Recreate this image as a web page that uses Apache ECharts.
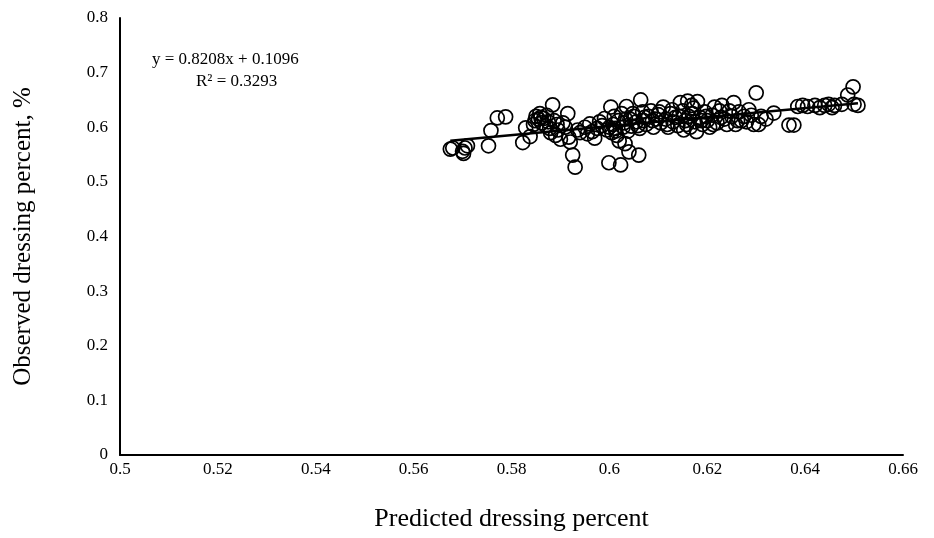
<!DOCTYPE html>
<html>
<head>
<meta charset="utf-8">
<script src="https://cdn.jsdelivr.net/npm/echarts@6/dist/echarts.min.js"></script>
<style>html,body{margin:0;padding:0;background:#fff}#c{width:934px;height:538px}</style>
</head>
<body>
<div id="c"></div>
<script>
const xTitle = 'Predicted dressing percent';
const yTitle = 'Observed dressing percent, %';
const equationText = 'y = 0.8208x + 0.1096';
const r2Text = 'R² = 0.3293';
const slope = 0.8208;
const intercept = 0.1096;
const predicted = [0.5675,0.5680,0.5700,0.5705,0.5710,0.5702,0.5753,0.5758,0.5771,0.5788,0.5823,0.5829,0.5838,0.5845,0.5848,0.5850,0.5855,0.5858,0.5862,0.5866,0.5870,0.5875,0.5878,0.5884,0.5880,0.5890,0.5895,0.5900,0.5905,0.5910,0.5915,0.5917,0.5920,0.5925,0.5930,0.5935,0.5940,0.5950,0.5955,0.5960,0.5965,0.5970,0.5975,0.5980,0.5985,0.5990,0.5995,0.5999,0.6003,0.6005,0.6008,0.6010,0.6012,0.6015,0.6018,0.6020,0.6023,0.6025,0.6028,0.6030,0.6032,0.6035,0.6038,0.6040,0.6042,0.6045,0.6050,0.6055,0.6060,0.6062,0.6064,0.6068,0.6070,0.6075,0.6080,0.6085,0.6090,0.6095,0.6100,0.6105,0.6110,0.6115,0.6120,0.6125,0.6130,0.6135,0.6140,0.6145,0.6150,0.6152,0.6155,0.6160,0.6162,0.6165,0.6168,0.6170,0.6175,0.6178,0.6180,0.6185,0.6190,0.6195,0.6200,0.6205,0.6210,0.6215,0.6220,0.6225,0.6230,0.6235,0.6240,0.6250,0.6254,0.6258,0.6265,0.6270,0.6280,0.6285,0.6290,0.6300,0.6305,0.6310,0.6320,0.6336,0.6367,0.6377,0.6385,0.6395,0.6405,0.6420,0.6430,0.6440,0.6448,0.6455,0.6460,0.6475,0.6487,0.6498,0.6500,0.6508,0.5860,0.5872,0.5887,0.5893,0.6000,0.6013,0.6033,0.6048,0.6058,0.6072,0.6088,0.6102,0.6118,0.6128,0.6142,0.6158,0.6172,0.6188,0.6198,0.6212,0.6228,0.6245,0.6262,0.6275,0.6295];
const observed = [0.560,0.562,0.556,0.562,0.566,0.552,0.566,0.594,0.617,0.619,0.572,0.599,0.583,0.605,0.612,0.620,0.615,0.625,0.608,0.616,0.603,0.610,0.598,0.641,0.590,0.585,0.595,0.578,0.608,0.600,0.625,0.582,0.573,0.549,0.527,0.595,0.590,0.600,0.588,0.606,0.592,0.580,0.598,0.610,0.603,0.616,0.595,0.535,0.637,0.590,0.605,0.620,0.598,0.585,0.612,0.575,0.531,0.625,0.600,0.608,0.570,0.638,0.593,0.555,0.615,0.602,0.620,0.610,0.549,0.598,0.650,0.628,0.612,0.605,0.620,0.630,0.600,0.615,0.623,0.608,0.637,0.615,0.600,0.625,0.610,0.618,0.603,0.645,0.630,0.595,0.612,0.648,0.620,0.600,0.640,0.625,0.610,0.592,0.647,0.618,0.605,0.628,0.612,0.600,0.622,0.637,0.608,0.630,0.640,0.615,0.605,0.620,0.645,0.605,0.628,0.612,0.610,0.632,0.622,0.663,0.605,0.620,0.615,0.626,0.604,0.604,0.638,0.640,0.638,0.640,0.636,0.640,0.642,0.636,0.640,0.642,0.659,0.674,0.642,0.640,0.618,0.622,0.612,0.605,0.600,0.593,0.615,0.625,0.603,0.618,0.612,0.628,0.605,0.632,0.620,0.605,0.635,0.612,0.620,0.605,0.618,0.630,0.612,0.620,0.605];
const xTicks = {min: 0.5, max: 0.66, interval: 0.02};
const yTicks = {min: 0, max: 0.8, interval: 0.1};

const points = predicted.map((x, i) => [x, observed[i]]);
const xMin = Math.min(...predicted), xMax = Math.max(...predicted);
const trend = [[xMin, slope * xMin + intercept], [xMax, slope * xMax + intercept]];
const font = 'Liberation Serif';

const chart = echarts.init(document.getElementById('c'));
chart.setOption({
  animation: false,
  backgroundColor: '#fff',
  grid: {left: 120, right: 31, top: 18, bottom: 83},
  xAxis: {
    type: 'value', min: xTicks.min, max: xTicks.max, interval: xTicks.interval,
    axisLine: {show: true, lineStyle: {color: '#000', width: 2}},
    axisTick: {show: false}, splitLine: {show: false},
    axisLabel: {color: '#000', fontFamily: font, fontSize: 17, margin: 6,
      formatter: v => String(parseFloat(v.toFixed(2)))},
    name: xTitle, nameLocation: 'middle', nameGap: 51,
    nameTextStyle: {color: '#000', fontFamily: font, fontSize: 26}
  },
  yAxis: {
    type: 'value', min: yTicks.min, max: yTicks.max, interval: yTicks.interval,
    axisLine: {show: true, lineStyle: {color: '#000', width: 2}},
    axisTick: {show: false}, splitLine: {show: false},
    axisLabel: {color: '#000', fontFamily: font, fontSize: 17, margin: 12,
      formatter: v => String(parseFloat(v.toFixed(1)))},
    name: yTitle, nameLocation: 'middle', nameGap: 84,
    nameTextStyle: {color: '#000', fontFamily: font, fontSize: 25}
  },
  graphic: [
    {type: 'text', left: 152, top: 51, style: {text: equationText, fill: '#000', font: '17px "Liberation Serif"'}},
    {type: 'text', left: 196, top: 73, style: {text: r2Text, fill: '#000', font: '17px "Liberation Serif"'}}
  ],
  series: [
    {type: 'scatter', data: points, symbol: 'circle', symbolSize: 14,
      itemStyle: {color: 'rgba(0,0,0,0)', borderColor: '#000', borderWidth: 1.7, opacity: 1}},
    {type: 'line', data: trend, showSymbol: false, symbol: 'none',
      lineStyle: {color: '#000', width: 2.5}, z: 3}
  ]
});
</script>
</body>
</html>
